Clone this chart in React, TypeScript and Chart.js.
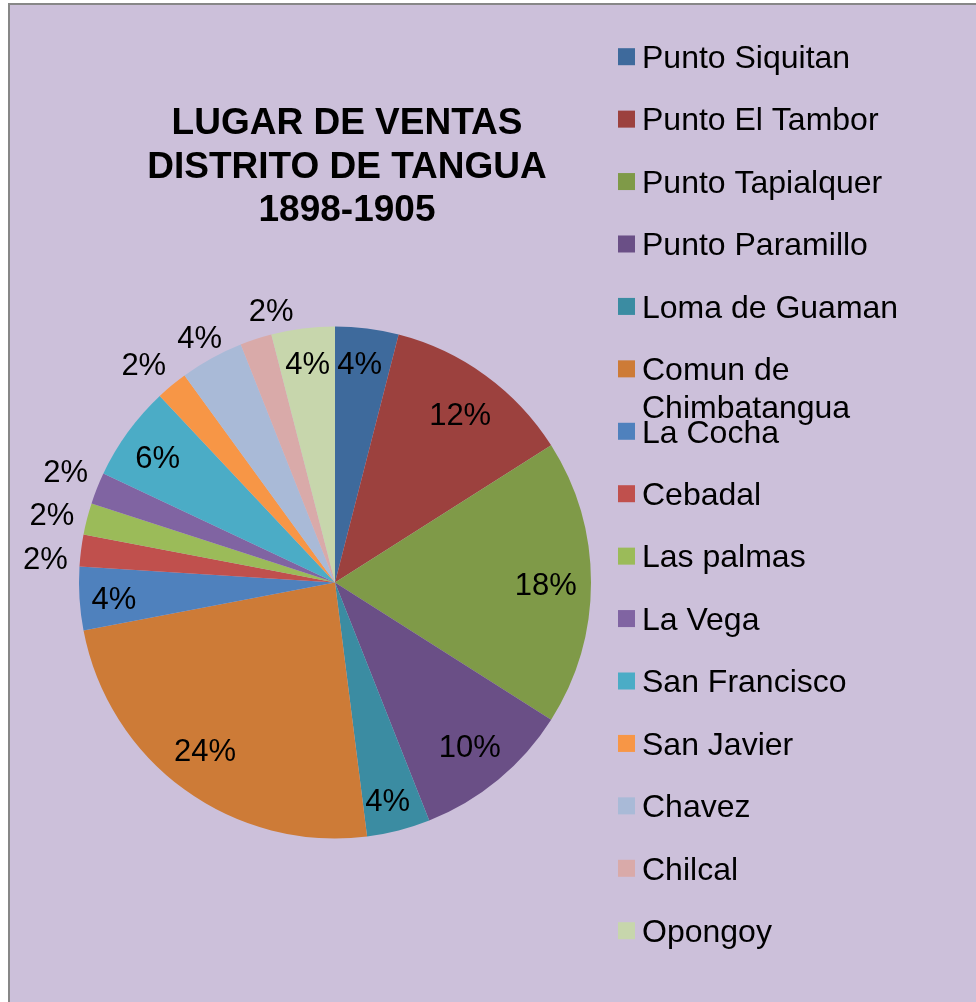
import React, { useEffect, useRef } from "react";
import { Chart, registerables } from "chart.js";

Chart.register(...registerables);

const TITLE_LINES = ["LUGAR DE VENTAS", "DISTRITO DE TANGUA", "1898-1905"];

const categories = [
  "Punto Siquitan",
  "Punto El Tambor",
  "Punto Tapialquer",
  "Punto Paramillo",
  "Loma de Guaman",
  "Comun de Chimbatangua",
  "La Cocha",
  "Cebadal",
  "Las palmas",
  "La Vega",
  "San Francisco",
  "San Javier",
  "Chavez",
  "Chilcal",
  "Opongoy",
];

const shares = [4, 12, 18, 10, 4, 24, 4, 2, 2, 2, 6, 2, 4, 2, 4];

const sliceColors = [
  "#3E6A9C",
  "#9C413E",
  "#7F9A48",
  "#6A4F86",
  "#3B8CA2",
  "#CD7B37",
  "#4F81BD",
  "#C0504D",
  "#9BBB59",
  "#8064A2",
  "#4BACC6",
  "#F79646",
  "#A9BAD7",
  "#D9AAA9",
  "#C7D6AC",
];

// label placement style: radial factor of the outer radius, and angle tweak (degrees)
const labelRadius = [0.865, 0.82, 0.823, 0.828, 0.874, 0.828, 0.866, 1.135, 1.138, 1.139, 0.848, 1.134, 1.097, 1.093, 0.866];
const labelAngleTweak = [-0.8, 0.6, 0.4, 0.1, 0.8, 1.8, -0.3, -2.4, -0.8, 0.9, -0.8, -1.6, 0, 4.8, 0.1];

const FONT = "'Liberation Sans', Arial, sans-serif";

const decorPlugin = {
  id: "decor",
  afterDatasetsDraw(chart: any) {
    const ctx = chart.ctx as CanvasRenderingContext2D;
    const meta = chart.getDatasetMeta(0);
    const data = chart.data.datasets[0].data as number[];
    const total = data.reduce((a, b) => a + b, 0);
    ctx.save();
    // data labels
    ctx.fillStyle = "#000";
    ctx.font = `31px ${FONT}`;
    ctx.textAlign = "center";
    ctx.textBaseline = "alphabetic";
    meta.data.forEach((arc: any, i: number) => {
      const p = arc.getProps(["x", "y", "startAngle", "endAngle", "outerRadius"], true);
      const mid = (p.startAngle + p.endAngle) / 2 + (labelAngleTweak[i] * Math.PI) / 180;
      const r = p.outerRadius * labelRadius[i];
      const cx = p.x + Math.cos(mid) * r;
      const cy = p.y + Math.sin(mid) * r;
      const txt = Math.round((data[i] / total) * 100) + "%";
      ctx.fillText(txt, cx, cy + 11.1);
    });

    // title
    ctx.font = `bold 37px ${FONT}`;
    TITLE_LINES.forEach((line, i) => {
      ctx.fillText(line, 347, 133.8 + i * 43.8);
    });

    // legend
    const labels = chart.data.labels as string[];
    const colors = chart.data.datasets[0].backgroundColor as string[];
    ctx.font = `32px ${FONT}`;
    ctx.textAlign = "left";
    const maxW = 310;
    labels.forEach((lab, i) => {
      const cyBox = 56.7 + i * 62.43;
      ctx.fillStyle = colors[i];
      ctx.fillRect(618, cyBox - 8.5, 17, 17);
      ctx.fillStyle = "#000";
      const words = lab.split(" ");
      const lines: string[] = [];
      let cur = "";
      words.forEach((w) => {
        const test = cur ? cur + " " + w : w;
        if (ctx.measureText(test).width > maxW && cur) {
          lines.push(cur);
          cur = w;
        } else cur = test;
      });
      if (cur) lines.push(cur);
      lines.forEach((ln, j) => {
        ctx.fillText(ln, 642, cyBox + 11.3 + j * 37.7);
      });
    });
    ctx.restore();
  },
};

export default function App() {
  const ref = useRef<HTMLCanvasElement | null>(null);
  useEffect(() => {
    if (!ref.current) return;
    const chart = new Chart(ref.current, {
      type: "pie",
      data: {
        labels: categories,
        datasets: [
          {
            data: shares,
            backgroundColor: sliceColors,
            borderWidth: 0,
            hoverOffset: 0,
            offset: 0,
          },
        ],
      },
      options: {
        responsive: false,
        animation: false,
        events: [],
        layout: { padding: { left: 79, right: 385, top: 326, bottom: 163 } },
        plugins: {
          legend: { display: false },
          tooltip: { enabled: false },
          title: { display: false },
        },
      },
      plugins: [decorPlugin],
    });
    return () => chart.destroy();
  }, []);

  return (
    <>
      <div
        style={{
          position: "fixed",
          left: 8,
          top: 3,
          width: 1000,
          height: 1020,
          boxSizing: "border-box",
          border: "2px solid #878787",
          background: "#CCC0DA",
        }}
      />
      <canvas
        ref={ref}
        width={976}
        height={1002}
        style={{ position: "fixed", left: 0, top: 0, width: 976, height: 1002 }}
      />
    </>
  );
}
